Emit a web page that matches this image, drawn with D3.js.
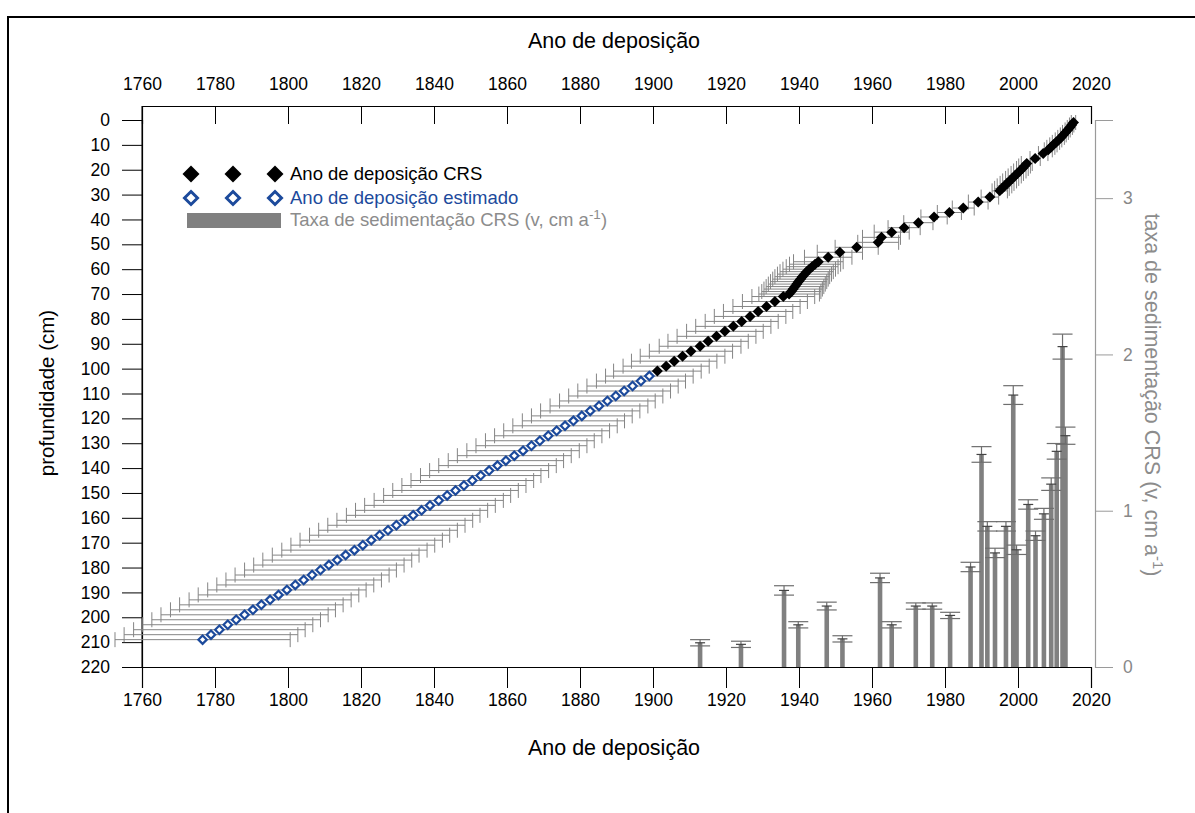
<!DOCTYPE html>
<html>
<head>
<meta charset="utf-8">
<script src="https://cdn.jsdelivr.net/npm/d3@7/dist/d3.min.js"></script>
<style>
  body { margin: 0; background: #fff; }
  text { font-family: "Liberation Sans", Arial, sans-serif; }
</style>
</head>
<body>
<svg id="chart" width="1195" height="813"></svg>
<script>
// CRS dated levels: depth (cm), year, age error (yr)
var crsDepth = [1, 2, 3, 4, 5, 6, 7, 8, 9, 10, 11, 12, 13.5, 15.5, 17.5,
  18.5, 19.5, 20.5, 21.5, 22.5, 23.5, 24.5, 25.5, 26.5, 27.5, 28.5,
  31, 33, 35.4, 37.2, 39, 41.3, 43.3, 45.1, 47.2, 49.2, 51.2, 53.2, 55.2, 57,
  58, 59, 60, 61, 62, 63, 64, 65, 66, 67, 68, 69, 70,
  71, 73, 75, 77, 79, 81, 83, 85, 87, 89, 91, 93, 95, 97, 99, 101];
var crsYear = [2015.2, 2014.7, 2014.2, 2013.6, 2013.0, 2012.4, 2011.8, 2011.1, 2010.4, 2009.7, 2009.0, 2008.3, 2006.9, 2004.7, 2002.4,
  2001.8, 2001.2, 2000.5, 1999.8, 1999.1, 1998.4, 1997.7, 1997.0, 1996.3, 1995.6, 1995.0,
  1992.3, 1989.1, 1985.0, 1981.2, 1977.0, 1972.7, 1968.8, 1965.4, 1962.6, 1961.7, 1955.8, 1951.2, 1948.0, 1945.3,
  1944.4, 1943.6, 1942.8, 1942.1, 1941.5, 1940.9, 1940.4, 1939.9, 1939.4, 1938.9, 1938.4, 1937.9, 1937.3,
  1935.7, 1933.4, 1931.1, 1928.8, 1926.6, 1924.3, 1922.0, 1919.7, 1917.4, 1915.1, 1912.9, 1910.4, 1908.1, 1905.8, 1903.6, 1901.2];
var crsErr = [0.6, 0.6, 0.7, 0.7, 0.8, 0.8, 0.9, 0.9, 1.0, 1.0, 1.1, 1.1, 1.3, 1.4, 1.5,
  1.6, 1.6, 1.7, 1.7, 1.8, 1.8, 1.9, 1.9, 2.0, 2.0, 2.1,
  2.4, 2.7, 3.0, 3.3, 3.6, 4.0, 4.4, 4.8, 5.2, 5.6, 5.9, 6.2, 6.5, 6.8,
  7.0, 7.1, 7.2, 7.3, 7.4, 7.5, 7.6, 7.7, 7.8, 7.9, 8.0, 8.1, 8.3,
  8.6, 8.9, 9.2, 9.5, 9.8, 10.0, 10.3, 10.5, 10.8, 11.0, 11.2, 11.4, 11.6, 11.7, 11.8, 12.0];

// estimated levels
var estDepth = [103, 105, 107, 109, 111, 113, 115, 117, 119, 121, 123, 125, 127, 129, 131, 133, 135, 137,
  139, 141, 143, 145, 147, 149, 151, 153, 155, 157, 159, 161, 163, 165, 167, 169, 171, 173, 175, 177,
  179, 181, 183, 185, 187, 189, 191, 193, 195, 197, 199, 201, 203, 205, 207, 209];
var estYear = [1899.0, 1896.7, 1894.4, 1892.1, 1889.8, 1887.5, 1885.2, 1882.8, 1880.5, 1878.2, 1875.9, 1873.6,
  1871.3, 1869.0, 1866.7, 1864.4, 1862.0, 1859.7, 1857.4, 1855.1, 1852.8, 1850.5, 1848.2, 1845.9, 1843.6,
  1841.3, 1838.9, 1836.6, 1834.3, 1832.0, 1829.7, 1827.4, 1825.1, 1822.8, 1820.5, 1818.2, 1815.8, 1813.5,
  1811.2, 1808.9, 1806.6, 1804.3, 1802.0, 1799.7, 1797.4, 1795.1, 1792.7, 1790.4, 1788.1, 1785.8, 1783.5,
  1781.2, 1778.9, 1776.6];
var estErr = [12.0, 12.2, 12.5, 12.7, 12.9, 13.1, 13.4, 13.6, 13.8, 14.0, 14.3, 14.5, 14.7, 14.9, 15.2, 15.4,
  15.6, 15.8, 16.1, 16.3, 16.5, 16.8, 17.0, 17.2, 17.4, 17.7, 17.9, 18.1, 18.3, 18.6, 18.8, 19.0, 19.2, 19.5,
  19.7, 19.9, 20.1, 20.4, 20.6, 20.8, 21.1, 21.3, 21.5, 21.7, 22.0, 22.2, 22.4, 22.6, 22.9, 23.1, 23.3, 23.5,
  23.8, 24.0];

// sedimentation rate (cm/a) bars
var rateYear = [1912.9, 1924.1, 1935.9, 1939.8, 1947.6, 1951.9, 1962.2, 1965.4, 1972.0, 1976.5, 1981.4,
  1987.0, 1990.0, 1991.6, 1993.7, 1996.7, 1998.7, 1999.6, 2002.8, 2004.8, 2007.1, 2009.1, 2010.6, 2012.2, 2013.0];
var rateValue = [0.155, 0.145, 0.49, 0.27, 0.39, 0.18, 0.57, 0.27, 0.39, 0.39, 0.33,
  0.64, 1.36, 0.90, 0.73, 0.90, 1.74, 0.75, 1.04, 0.84, 0.98, 1.17, 1.38, 2.05, 1.48];
var rateErr = [0.02, 0.02, 0.03, 0.02, 0.025, 0.02, 0.03, 0.02, 0.02, 0.02, 0.02,
  0.03, 0.05, 0.03, 0.03, 0.03, 0.06, 0.03, 0.03, 0.03, 0.035, 0.04, 0.05, 0.08, 0.055];

var yearTicks = d3.range(1760, 2021, 20);
var depthTicks = d3.range(0, 221, 10);
var rateTicks = [0, 1, 2, 3];

var svg = d3.select("#chart");
var blue = "#1c4a9c", errCol = "#858585", barCol = "#808080", rGrey = "#9a9a9a";

var x = d3.scaleLinear().domain([1760, 2020]).range([142, 1091]);
var y = d3.scaleLinear().domain([0, 220]).range([120, 667]);
var yr = d3.scaleLinear().domain([0, 3.5]).range([667, 120]);

var diamond = function(r) { return "M0," + (-r) + "L" + r + ",0L0," + r + "L" + (-r) + ",0Z"; };

// outer frame
svg.append("path").attr("d", "M8,813V17H1195").attr("fill", "none").attr("stroke", "#000").attr("stroke-width", 2);

// top axis (ticks inside)
var gTop = svg.append("g").attr("transform", "translate(0,106)");
gTop.call(d3.axisTop(x).tickValues(d3.range(1770, 2020, 20)).tickSize(-9).tickFormat(""));
gTop.call(d3.axisTop(x).tickValues(yearTicks).tickSize(-18).tickPadding(16).tickFormat(d3.format("d")));
// bottom axis (ticks outside)
var gBot = svg.append("g").attr("transform", "translate(0,667)");
gBot.call(d3.axisBottom(x).tickValues(d3.range(1770, 2020, 20)).tickSize(10).tickFormat(""));
gBot.call(d3.axisBottom(x).tickValues(yearTicks).tickSize(21).tickPadding(6).tickFormat(d3.format("d")));
// left axis
var gLeft = svg.append("g").attr("transform", "translate(142,0)");
gLeft.call(d3.axisLeft(y).tickValues(d3.range(5, 220, 10)).tickSize(10).tickFormat(""));
gLeft.call(d3.axisLeft(y).tickValues(depthTicks).tickSize(20).tickPadding(12));
svg.append("line").attr("x1", 142).attr("x2", 142).attr("y1", 106).attr("y2", 667).attr("stroke", "#000");
// right axis (grey)
var gRight = svg.append("g").attr("transform", "translate(1095,0)");
gRight.call(d3.axisRight(yr).tickValues([0.5, 1.5, 2.5, 3.5]).tickSize(9).tickFormat(""));
gRight.call(d3.axisRight(yr).tickValues(rateTicks).tickSize(18).tickPadding(10).tickFormat(d3.format("d")));
gRight.selectAll("path,line").attr("stroke", rGrey);
gRight.selectAll("text").attr("fill", "#888");

svg.selectAll(".tick text").attr("font-size", 17.5).attr("font-family", "Liberation Sans, Arial, sans-serif");
svg.selectAll(".domain").attr("stroke-width", 1.2);

// titles
svg.append("text").attr("x", 614).attr("y", 48).attr("text-anchor", "middle").attr("font-size", 21.5).text("Ano de deposição");
svg.append("text").attr("x", 614).attr("y", 755).attr("text-anchor", "middle").attr("font-size", 21.5).text("Ano de deposição");
svg.append("text").attr("transform", "translate(54,393) rotate(-90)").attr("text-anchor", "middle")
  .attr("font-size", 20.5).text("profundidade (cm)");
var rt = svg.append("text").attr("transform", "translate(1145,395) rotate(90)").attr("text-anchor", "middle")
  .attr("font-size", 21.5).attr("fill", "#8c8c8c");
rt.append("tspan").text("taxa de sedimentação CRS (v, cm a");
rt.append("tspan").attr("dy", -8).attr("font-size", 15).text("-1");
rt.append("tspan").attr("dy", 8).text(")");

// error bars for ages
function ageErrors(depth, year, err, cls) {
  var g = svg.append("g").attr("class", cls).attr("stroke", errCol).attr("stroke-width", 1);
  var idx = d3.range(depth.length);
  g.selectAll("line.h").data(idx).join("line").attr("class", "h")
    .attr("x1", function(i) { return x(year[i] - err[i]); }).attr("x2", function(i) { return x(year[i] + err[i]); })
    .attr("y1", function(i) { return y(depth[i]); }).attr("y2", function(i) { return y(depth[i]); });
  [-1, 1].forEach(function(s) {
    g.selectAll("line.c" + s).data(idx).join("line").attr("class", "c" + s)
      .attr("x1", function(i) { return x(year[i] + s * err[i]); }).attr("x2", function(i) { return x(year[i] + s * err[i]); })
      .attr("y1", function(i) { return y(depth[i]) - 7.5; }).attr("y2", function(i) { return y(depth[i]) + 7.5; });
  });
}
ageErrors(estDepth, estYear, estErr, "est-err");
ageErrors(crsDepth, crsYear, crsErr, "crs-err");

// rate bars
var rIdx = d3.range(rateYear.length);
svg.append("g").selectAll("rect").data(rIdx).join("rect")
  .attr("x", function(i) { return x(rateYear[i]) - 2.3; }).attr("width", 4.6)
  .attr("y", function(i) { return yr(rateValue[i]); })
  .attr("height", function(i) { return yr(0) - yr(rateValue[i]); })
  .attr("fill", barCol);
var gb = svg.append("g").attr("stroke", "#6e6e6e").attr("stroke-width", 1.2);
gb.selectAll("line.v").data(rIdx).join("line").attr("class", "v")
  .attr("x1", function(i) { return x(rateYear[i]); }).attr("x2", function(i) { return x(rateYear[i]); })
  .attr("y1", function(i) { return yr(rateValue[i] + rateErr[i]); }).attr("y2", function(i) { return yr(rateValue[i] - rateErr[i]); });
[-1, 1].forEach(function(s) {
  gb.selectAll("line.c" + s).data(rIdx).join("line").attr("class", "c" + s)
    .attr("x1", function(i) { return x(rateYear[i]) - 10; }).attr("x2", function(i) { return x(rateYear[i]) + 10; })
    .attr("y1", function(i) { return yr(rateValue[i] + s * rateErr[i]); })
    .attr("y2", function(i) { return yr(rateValue[i] + s * rateErr[i]); });
});
gb.selectAll("line.m").data(rIdx).join("line").attr("class", "m").attr("stroke", "#444")
  .attr("x1", function(i) { return x(rateYear[i]) - 5; }).attr("x2", function(i) { return x(rateYear[i]) + 5; })
  .attr("y1", function(i) { return yr(rateValue[i]); }).attr("y2", function(i) { return yr(rateValue[i]); });

// markers
svg.append("g").selectAll("path").data(d3.range(estDepth.length)).join("path")
  .attr("d", diamond(4.2))
  .attr("transform", function(i) { return "translate(" + x(estYear[i]) + "," + y(estDepth[i]) + ")"; })
  .attr("fill", "#fff").attr("stroke", blue).attr("stroke-width", 2.2);
svg.append("g").selectAll("path").data(d3.range(crsDepth.length)).join("path")
  .attr("d", diamond(5.5))
  .attr("transform", function(i) { return "translate(" + x(crsYear[i]) + "," + y(crsDepth[i]) + ")"; })
  .attr("fill", "#000");

// legend
var leg = svg.append("g");
[191, 233, 275].forEach(function(lx) {
  leg.append("path").attr("d", diamond(8.5)).attr("transform", "translate(" + lx + ",174)").attr("fill", "#000");
  leg.append("path").attr("d", diamond(6.5)).attr("transform", "translate(" + lx + ",198)")
    .attr("fill", "#fff").attr("stroke", blue).attr("stroke-width", 3);
});
leg.append("rect").attr("x", 187).attr("y", 213).attr("width", 94).attr("height", 15).attr("fill", barCol);
leg.append("text").attr("x", 290).attr("y", 180).attr("font-size", 18.5).text("Ano de deposição CRS");
leg.append("text").attr("x", 290).attr("y", 204).attr("font-size", 18.5).attr("fill", blue).text("Ano de deposição estimado");
var lt = leg.append("text").attr("x", 290).attr("y", 226).attr("font-size", 18.5).attr("fill", "#8c8c8c");
lt.append("tspan").text("Taxa de sedimentação CRS (v, cm a");
lt.append("tspan").attr("dy", -7).attr("font-size", 13.5).text("-1");
lt.append("tspan").attr("dy", 7).text(")");
</script>
</body>
</html>
